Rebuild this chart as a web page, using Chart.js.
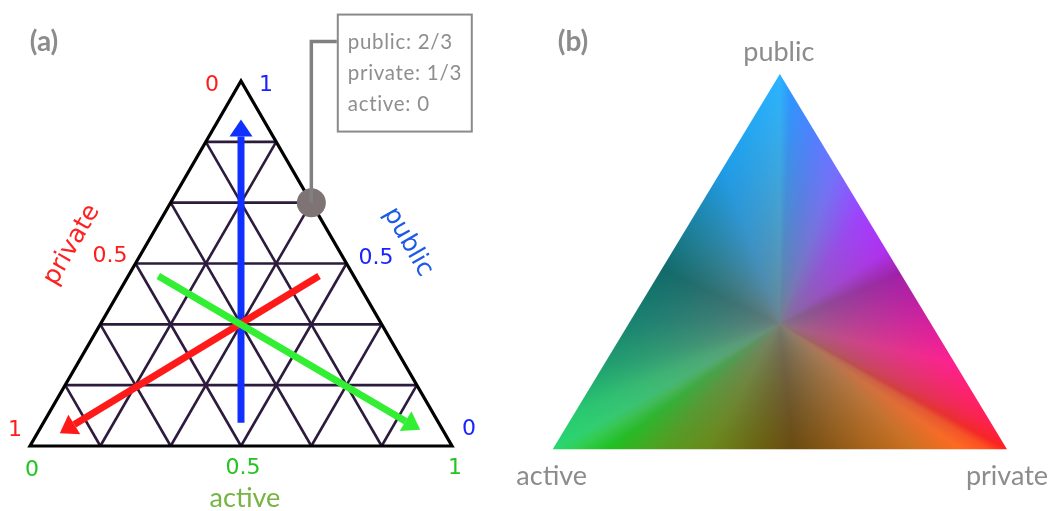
<!DOCTYPE html>
<html>
<head>
<meta charset="utf-8">
<script src="https://cdn.jsdelivr.net/npm/chart.js@4"></script>
<style>
  html, body { margin: 0; padding: 0; background: #fff; }
  #wrap { position: relative; width: 1051px; height: 511px; }
  canvas { display: block; position: absolute; top: 0; }
  #left { left: 0; }
  #right { left: 495px; }
</style>
</head>
<body>
<div id="wrap">
  <canvas id="left" width="525" height="511"></canvas>
  <canvas id="right" width="556" height="511"></canvas>
</div>
<script>
// ---- data ----
const tickValues = [0, 0.5, 1];
const tickLabels = ['0', '0.5', '1'];
const gridDivisions = 6;
const axisNames = { active: 'active', private: 'private', public: 'public' };

// arrows in triangle units (x across the base, y up the height), start -> head base
const publicArrow  = [{ x: 0.5,   y: 0.064 }, { x: 0.5,   y: 0.848 }];
const privateArrow = [{ x: 0.685, y: 0.466 }, { x: 0.105, y: 0.059 }];
const activeArrow  = [{ x: 0.304, y: 0.466 }, { x: 0.890, y: 0.068 }];

// the marked composition and its call-out
const markedPoint = { public: 2 / 3, private: 1 / 3, active: 0 };
const markedLabels = ['public: 2/3', 'private: 1/3', 'active: 0'];
const calloutElbow = { y: 1.108, x: 0.727 };

const panelLabels = ['(a)', '(b)'];
const cornerLabels = ['public', 'active', 'private'];   // top, bottom-left, bottom-right

// ---- geometry helpers (triangle units) ----
const TOP = { x: 0.5, y: 1 }, LEFT = { x: 0, y: 0 }, RIGHT = { x: 1, y: 0 };
function along(a, b, t) { return { x: a.x + (b.x - a.x) * t, y: a.y + (b.y - a.y) * t }; }
function toXY(c) { return { x: c.private + c.public / 2, y: c.public }; }  // public top, private right, active left

const red = '#ff1c1c', blue = '#1a22ff', green = '#22c422', grey = '#8c8c8c';

function lineSet(data, color, width, order, extra) {
  return Object.assign({ data, showLine: true, borderColor: color, borderWidth: width,
    pointRadius: 0, order, clip: false, fill: false }, extra || {});
}

// text layer: items with a position in data units plus a pixel nudge
function textLayer(items) {
  return {
    id: 'textLayer',
    afterDraw(chart) {
      const ctx = chart.ctx, sx = chart.scales.x, sy = chart.scales.y;
      items.forEach(it => {
        const px = it.pos ? sx.getPixelForValue(it.pos.x) : chart.chartArea.left;
        const py = it.pos ? sy.getPixelForValue(it.pos.y) : chart.chartArea.top;
        ctx.save();
        ctx.translate(px + it.off[0], py + it.off[1]);
        if (it.rot) ctx.rotate(it.rot * Math.PI / 180);
        ctx.font = it.font;
        ctx.fillStyle = it.color;
        ctx.textAlign = 'center';
        ctx.textBaseline = 'middle';
        ctx.fillText(it.text, 0, 0);
        ctx.restore();
      });
    }
  };
}

const arrowHeads = {
  id: 'arrowHeads',
  afterDatasetsDraw(chart) {
    const ctx = chart.ctx;
    chart.data.datasets.forEach((ds, i) => {
      if (!ds.arrowHead) return;
      const pts = chart.getDatasetMeta(i).data;
      const a = pts[pts.length - 2], b = pts[pts.length - 1];
      const ang = Math.atan2(b.y - a.y, b.x - a.x);
      ctx.save();
      ctx.translate(b.x, b.y);
      ctx.rotate(ang);
      ctx.beginPath();
      ctx.moveTo(17, 0); ctx.lineTo(0, -11.5); ctx.lineTo(0, 11.5); ctx.closePath();
      ctx.fillStyle = ds.borderColor;
      ctx.fill();
      ctx.restore();
    });
  }
};

const callout = {
  id: 'callout',
  afterDatasetsDraw(chart) {
    const ctx = chart.ctx;
    const pts = chart.getDatasetMeta(chart.data.datasets.findIndex(d => d.callout)).data;
    const end = pts[pts.length - 1];
    ctx.save();
    ctx.strokeStyle = '#8a8a8a';
    ctx.lineWidth = 2;
    ctx.strokeRect(end.x + 1, end.y - 27, 134, 117);
    ctx.font = '20.5px Lato';
    ctx.letterSpacing = '0.7px';
    ctx.fillStyle = '#8e8e8e';
    ctx.textBaseline = 'middle';
    markedLabels.forEach((t, i) => ctx.fillText(t, end.x + 11, end.y + 1 + i * 30.8));
    ctx.restore();
  }
};

// ---- panel (a) ----
const gridSets = [];
for (let k = 1; k < gridDivisions; k++) {
  const t = k / gridDivisions;
  gridSets.push(lineSet([along(LEFT, TOP, t), along(RIGHT, TOP, t)], '#2d1b3d', 2.6, 50));
  gridSets.push(lineSet([along(LEFT, RIGHT, t), along(RIGHT, TOP, 1 - t)], '#2d1b3d', 2.6, 50));
  gridSets.push(lineSet([along(LEFT, RIGHT, t), along(LEFT, TOP, t)], '#2d1b3d', 2.6, 50));
}
const markedXY = toXY(markedPoint);

const datasetsA = gridSets.concat([
  lineSet([LEFT, RIGHT, TOP, LEFT, RIGHT], '#000', 3.2, 40),
  lineSet(publicArrow, '#1030ff', 7, 32, { arrowHead: true }),
  lineSet(privateArrow, '#ff1a1a', 7, 31, { arrowHead: true }),
  lineSet(activeArrow, '#33ef33', 7, 30, { arrowHead: true }),
  { data: [markedXY], pointRadius: 14.5, pointBackgroundColor: '#7f7474', pointBorderWidth: 0, order: 20, clip: false },
  lineSet([markedXY, { x: markedXY.x, y: calloutElbow.y }, { x: calloutElbow.x, y: calloutElbow.y }],
    '#808080', 3.5, 10, { callout: true })
]);

const tickFont = '22px "DejaVu Sans"';
const nameFont = '25px "DejaVu Sans"';
const activeOff = [[2, 24], [2, 22], [3, 22]];
const privateOff = [[-29, 4], [-25.5, -7], [-15, -16]];
const publicOff = [[17, -17], [29.5, -5.5], [25, 4]];
const itemsA = [{ text: panelLabels[0], off: [44, 42], font: 'bold 28px Lato', color: grey }];
tickValues.forEach((v, i) => {
  itemsA.push({ pos: along(LEFT, RIGHT, v), off: activeOff[i], text: tickLabels[i], font: tickFont, color: green });
  itemsA.push({ pos: along(TOP, LEFT, v), off: privateOff[i], text: tickLabels[i], font: tickFont, color: red });
  itemsA.push({ pos: along(RIGHT, TOP, v), off: publicOff[i], text: tickLabels[i], font: tickFont, color: blue });
});
itemsA.push({ pos: along(LEFT, RIGHT, 0.5), off: [4, 52], text: axisNames.active, font: '27px Lato', color: '#76b443' });
itemsA.push({ pos: along(LEFT, TOP, 0.5), off: [-63.5, -18.5], rot: -60, text: axisNames.private, font: nameFont, color: '#ff2020' });
itemsA.push({ pos: along(RIGHT, TOP, 0.5), off: [61.5, -21.5], rot: 60, text: axisNames.public, font: nameFont, color: '#1c5ae8' });

function baseOptions(xmin, xmax, ymin, ymax) {
  return {
    responsive: false, animation: false, events: [],
    layout: { padding: 0, autoPadding: false },
    plugins: { legend: { display: false }, tooltip: { enabled: false } },
    scales: {
      x: { type: 'linear', display: false, min: xmin, max: xmax },
      y: { type: 'linear', display: false, min: ymin, max: ymax }
    }
  };
}

new Chart(document.getElementById('left'), {
  type: 'scatter',
  data: { datasets: datasetsA },
  options: baseOptions(-0.0711, 1.1730, -0.1781, 1.2219),
  plugins: [arrowHeads, callout, textLayer(itemsA)]
});

// ---- panel (b): colour field ----
const fieldCenter = [120, 126, 126];
const fieldStops = [   // position round the rim: 0 bottom-left, 1 top, 2 bottom-right, 3 back to bottom-left
  [0.00, '#28d870'], [0.10, '#28c870'], [0.22, '#20a070'], [0.35, '#188070'], [0.48, '#106a6a'],
  [0.57, '#1a7c90'], [0.75, '#1e9ce8'], [1.00, '#2ab4ff'], [1.05, '#3094ff'], [1.15, '#5080ff'],
  [1.25, '#7470ff'], [1.37, '#a040ff'], [1.47, '#b030f0'], [1.53, '#a020a8'], [1.65, '#d020a0'],
  [1.77, '#ff2090'], [1.93, '#ff2050'], [2.00, '#ff2020'], [2.04, '#ff5020'], [2.10, '#ff6a20'],
  [2.20, '#d07020'], [2.33, '#a06018'], [2.47, '#6a4a10'], [2.54, '#6a6010'], [2.66, '#6a8a1a'],
  [2.77, '#50a020'], [2.88, '#20c020'], [2.95, '#30d050'], [3.00, '#28d870']
].map(([p, h]) => [p, [parseInt(h.slice(1, 3), 16), parseInt(h.slice(3, 5), 16), parseInt(h.slice(5, 7), 16)]]);

function rimColor(P) {
  for (let i = 1; i < fieldStops.length; i++) {
    if (P <= fieldStops[i][0]) {
      const [p0, c0] = fieldStops[i - 1], [p1, c1] = fieldStops[i];
      const t = (P - p0) / (p1 - p0 || 1);
      return [0, 1, 2].map(j => c0[j] + (c1[j] - c0[j]) * t);
    }
  }
  return fieldStops[fieldStops.length - 1][1];
}

function fieldColor(u, a, r) {   // weights of top, left, right corners
  const m = Math.min(u, a, r), d = 1 - 3 * m;
  if (d < 1e-6) return fieldCenter;
  const eu = (u - m) / d, ea = (a - m) / d, er = (r - m) / d;
  let P;
  if (m === r) P = eu;
  else if (m === a) P = 1 + er;
  else P = 2 + ea;
  const e = rimColor(P), k = Math.pow(d, 0.6);
  return [0, 1, 2].map(j => fieldCenter[j] * (1 - k) + e[j] * k);
}

const colourField = {
  id: 'colourField',
  beforeDatasetsDraw(chart) {
    const ctx = chart.ctx;
    const pts = chart.getDatasetMeta(0).data;
    const T = pts[2], L = pts[0], R = pts[1];
    const ox = Math.floor(L.x) - 1, oy = Math.floor(T.y) - 1;
    const w = Math.ceil(R.x) - ox + 2, h = Math.ceil(L.y) - oy + 2;
    const off = document.createElement('canvas');
    off.width = w; off.height = h;
    const octx = off.getContext('2d');
    const img = octx.createImageData(w, h);
    const den = (L.y - R.y) * (T.x - R.x) + (R.x - L.x) * (T.y - R.y);
    for (let j = 0; j < h; j++) {
      for (let i = 0; i < w; i++) {
        const px = ox + i + 0.5, py = oy + j + 0.5;
        let u = ((L.y - R.y) * (px - R.x) + (R.x - L.x) * (py - R.y)) / den;
        let a = ((R.y - T.y) * (px - R.x) + (T.x - R.x) * (py - R.y)) / den;
        let r = 1 - u - a;
        u = Math.max(0, u); a = Math.max(0, a); r = Math.max(0, r);
        const s = u + a + r;
        const c = fieldColor(u / s, a / s, r / s);
        const idx = (j * w + i) * 4;
        img.data[idx] = c[0]; img.data[idx + 1] = c[1]; img.data[idx + 2] = c[2]; img.data[idx + 3] = 255;
      }
    }
    octx.putImageData(img, 0, 0);
    ctx.save();
    ctx.beginPath();
    ctx.moveTo(L.x, L.y); ctx.lineTo(R.x, R.y); ctx.lineTo(T.x, T.y); ctx.closePath();
    ctx.clip();
    ctx.drawImage(off, ox, oy);
    ctx.restore();
  }
};

const itemsB = [
  { text: panelLabels[1], off: [78, 42], font: 'bold 28px Lato', color: grey },
  { pos: TOP, off: [-1, -22], text: cornerLabels[0], font: '27px Lato', color: grey },
  { pos: LEFT, off: [-1, 27], text: cornerLabels[1], font: '27px Lato', color: grey },
  { pos: RIGHT, off: [0, 27], text: cornerLabels[2], font: '27px Lato', color: grey }
];

new Chart(document.getElementById('right'), {
  type: 'scatter',
  data: { datasets: [lineSet([LEFT, RIGHT, TOP], 'rgba(0,0,0,0)', 0, 1)] },
  options: baseOptions(-0.1270, 1.0969, -0.1644, 1.1972),
  plugins: [colourField, textLayer(itemsB)]
});
</script>
</body>
</html>
